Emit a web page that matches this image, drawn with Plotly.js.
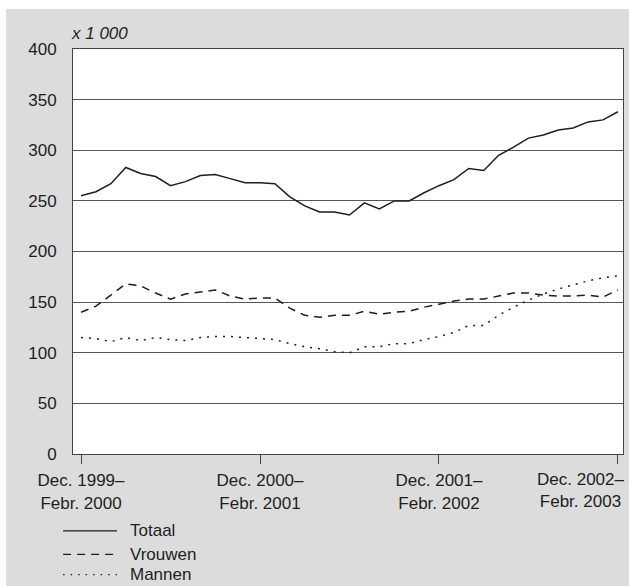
<!DOCTYPE html>
<html>
<head>
<meta charset="utf-8">
<script src="https://cdn.plot.ly/plotly-3.0.1.min.js"></script>
<style>
  html, body { margin: 0; padding: 0; background: #ffffff; width: 629px; height: 586px; overflow: hidden; }
  #chart { position: absolute; left: 6px; top: 9px; width: 623px; height: 577px; }
</style>
</head>
<body>
<div id="chart"></div>
<script>
// Three-month periods, Dec. 1999–Febr. 2000 ... Dec. 2002–Febr. 2003 (monthly, index 0..36)
const periods = Array.from({length: 37}, (_, i) => i);
const tickPositions = [0, 12, 24, 36];
const tickLabels = ["Dec. 1999–<br>Febr. 2000", "Dec. 2000–<br>Febr. 2001", "Dec. 2001–<br>Febr. 2002", ""];
const lastTickLabel = "Dec. 2002–<br>Febr. 2003";

const totaal = [255, 259, 267, 283, 277, 274, 265, 269, 275, 276, 272, 268, 268, 267, 254, 245, 239, 239, 236, 248, 242, 250, 250, 258, 265, 271, 282, 280, 295, 303, 312, 315, 320, 322, 328, 330, 338];
const vrouwen = [140, 146, 157, 168, 166, 159, 153, 158, 160, 162, 156, 153, 154, 154, 144, 137, 135, 137, 137, 141, 138, 140, 141, 145, 148, 151, 153, 153, 156, 159, 159, 157, 156, 156, 157, 155, 162];
const mannen = [115, 114, 111, 115, 112, 115, 113, 112, 115, 116, 116, 115, 114, 113, 109, 106, 104, 101, 100, 106, 106, 109, 109, 113, 116, 120, 127, 127, 137, 145, 152, 158, 163, 167, 171, 174, 176];

const seriesNames = ["Totaal", "Vrouwen", "Mannen"];
const ink = "#1e1e1e";
const font = "Liberation Sans, Arial, Helvetica, sans-serif";

const traces = [
  {x: periods, y: totaal, name: seriesNames[0], mode: "lines", line: {color: ink, width: 1.5}},
  {x: periods, y: vrouwen, name: seriesNames[1], mode: "lines", line: {color: ink, width: 1.5, dash: "8px,6px"}},
  {x: periods, y: mannen, name: seriesNames[2], mode: "lines", line: {color: ink, width: 1.5, dash: "2px,6px"}}
];

// legend geometry (paper coordinates)
const legY = [-0.190, -0.248, -0.298];
const legDash = ["solid", "8px,6px", "1.5px,6px"];
const shapes = legY.map((y, i) => ({
  type: "line", xref: "paper", yref: "paper",
  x0: -0.018, x1: 0.08, y0: y, y1: y,
  line: {color: ink, width: 1.3, dash: legDash[i]}
}));
const annotations = legY.map((y, i) => ({
  xref: "paper", yref: "paper", x: 0.1, y: y, xanchor: "left", yanchor: "middle",
  text: seriesNames[i], showarrow: false, font: {family: font, size: 17, color: ink}
}));
annotations.push({
  xref: "paper", yref: "paper", x: -0.008, y: 1.0, xanchor: "left", yanchor: "bottom", yshift: 4,
  text: "<i>x 1 000</i>", showarrow: false, font: {family: font, size: 17, color: ink}
});
annotations.push({
  xref: "x", yref: "paper", x: tickPositions[3], y: 0, xanchor: "center", yanchor: "top",
  xshift: -37, yshift: -14,
  text: lastTickLabel, showarrow: false, font: {family: font, size: 17, color: ink}
});

const layout = {
  width: 623, height: 577,
  margin: {l: 67, r: 6, t: 40, b: 132, pad: 0},
  paper_bgcolor: "#dcdcdd",
  plot_bgcolor: "#ffffff",
  showlegend: false,
  font: {family: font, size: 17, color: ink},
  xaxis: {
    range: [-0.54, 36.34],
    tickmode: "array", tickvals: tickPositions, ticktext: tickLabels,
    ticks: "outside", ticklen: 9, tickcolor: "#444", tickwidth: 1,
    showgrid: false, zeroline: false,
    showline: true, mirror: true, linecolor: "#444", linewidth: 1,
    ticklabelstandoff: 2,
    tickfont: {family: font, size: 17, color: ink}
  },
  yaxis: {
    range: [0, 400], tickvals: [0, 50, 100, 150, 200, 250, 300, 350, 400],
    showgrid: true, gridcolor: "#555", gridwidth: 1,
    zeroline: false, ticks: "",
    showline: true, mirror: true, linecolor: "#444", linewidth: 1,
    ticklabelstandoff: 12,
    tickfont: {family: font, size: 17, color: ink}
  },
  shapes: shapes,
  annotations: annotations
};

Plotly.newPlot("chart", traces, layout, {displayModeBar: false, staticPlot: true});
</script>
</body>
</html>
